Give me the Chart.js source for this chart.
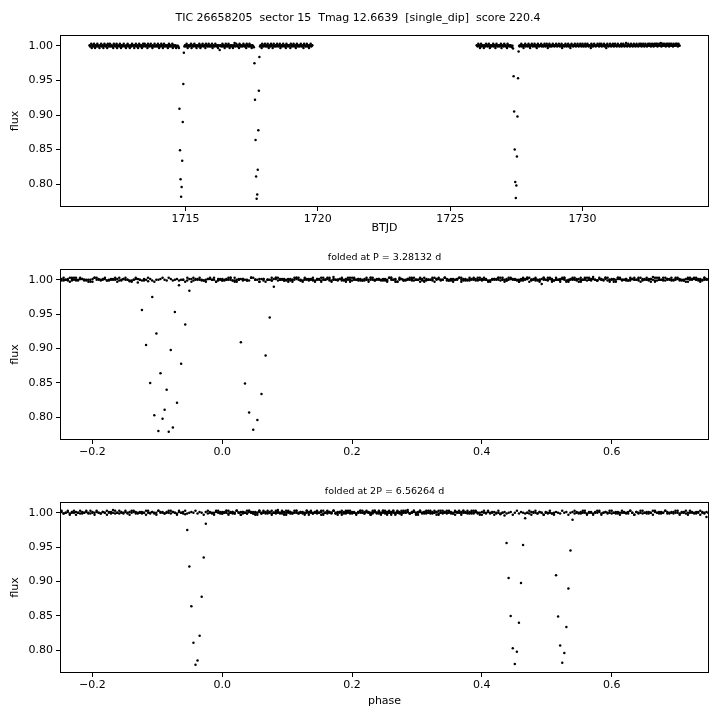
<!DOCTYPE html>
<html>
<head>
<meta charset="utf-8">
<script src="https://cdn.jsdelivr.net/npm/chart.js@4.4.1/dist/chart.umd.min.js"></script>
<style>
  body { margin: 0; background: #fff; }
  #wrap { position: relative; width: 720px; height: 720px; }
  canvas { position: absolute; left: 0; }
</style>
</head>
<body>
<div id="wrap">
  <canvas id="raw" width="720" height="240" style="top:0px"></canvas>
  <canvas id="foldP" width="720" height="233" style="top:240px"></canvas>
  <canvas id="fold2P" width="720" height="247" style="top:473px"></canvas>
</div>
<script>
// light curve, TESS 30-min FFI cadence, two orbits
const orbitStart = [1711.377, 1726.002]; // BTJD of first cadence
const cadence = 30 / 1440;
const period = 3.28132;
const epoch = 1717.96;

const fluxOrbit1 = [
  1.001, 0.999, 1.000, 1.003, 0.997, 1.000, 1.001, 0.999, 1.003, 1.000, 0.997, 1.001, 1.000, 0.999, 1.003, 1.001, 0.999, 1.000, 0.997, 1.001,
  1.000, 1.003, 0.999, 1.000, 1.001, 0.997, 1.000, 1.003, 1.000, 0.999, 1.001, 1.000, 0.997, 1.003, 1.001, 0.999, 1.000, 1.003, 0.999, 1.000,
  1.001, 0.999, 1.000, 0.997, 1.003, 1.000, 1.001, 0.999, 1.000, 1.003, 0.997, 1.000, 1.001, 1.000, 0.999, 1.003, 1.000, 0.997, 1.001, 1.000,
  0.999, 1.001, 1.003, 1.000, 0.999, 1.000, 0.997, 1.001, 1.000, 1.003, 0.999, 1.001, 1.000, 0.997, 1.000, 1.001, 0.999, 1.003, 1.000, 1.001,
  1.000, 0.997, 1.001, 1.000, 1.003, 0.999, 1.000, 1.001, 0.997, 1.000, 1.003, 1.001, 0.999, 1.000, 1.001, 0.997, 1.000, 1.003, 0.999, 1.001,
  1.003, 1.000, 0.999, 1.001, 1.000, 0.997, 1.003, 1.000, 0.999, 1.001, 1.000, 1.003, 0.999, 1.000, 0.997, 1.001, 1.000, 0.999, 1.003, 1.000,
  0.999, 1.000, 1.001, 0.999, 1.003, 1.000, 0.997, 1.001, 1.000, 0.999, 1.003, 1.000, 1.001, 0.997, 1.000, 1.003, 0.999, 1.000, 1.001, 0.999,
  1.000, 1.001, 0.997, 1.000, 1.003, 0.999, 1.001, 1.000, 0.999, 1.000, 1.003, 0.997, 1.001, 1.000, 0.999, 1.001, 1.000, 0.997, 1.000, 0.999,
  1.000, 0.999, 0.997, 0.909, 0.849, 0.807, 0.782, 0.796, 0.834, 0.890, 0.945, 0.990, 0.999, 1.001, 1.000, 0.999, 1.003, 1.000, 0.997, 1.001,
  1.000, 0.999, 1.001, 1.000, 1.003, 0.997, 1.000, 1.001, 0.999, 1.000, 1.003, 1.000, 0.999, 1.001, 0.997, 1.000, 1.001, 1.000, 0.999, 1.003,
  1.000, 0.997, 1.001, 0.999, 1.000, 1.003, 1.000, 0.999, 1.001, 1.000, 0.997, 1.003, 1.000, 1.001, 0.999, 1.000, 1.003, 0.999, 1.000, 1.001,
  0.999, 1.000, 1.003, 0.997, 1.000, 1.001, 0.999, 1.000, 1.003, 1.000, 0.999, 1.001, 1.000, 0.997, 1.001, 1.000, 0.994, 1.000, 1.001, 0.999,
  1.000, 1.003, 0.999, 1.001, 1.000, 0.997, 1.000, 1.003, 0.999, 1.000, 1.001, 0.999, 1.003, 1.000, 0.997, 1.001, 1.000, 0.999, 1.001, 1.000,
  0.997, 1.000, 1.001, 1.004, 0.999, 1.000, 1.003, 1.000, 0.999, 1.001, 1.000, 0.997, 1.003, 1.001, 0.999, 1.000, 1.001, 0.999, 1.000, 1.003,
  1.000, 0.999, 1.001, 1.000, 0.997, 1.003, 1.000, 1.001, 0.999, 1.000, 1.003, 0.999, 1.001, 1.000, 0.997, 1.001, 1.000, 0.999, 0.998, 0.975,
  0.922, 0.864, 0.811, 0.779, 0.785, 0.821, 0.878, 0.935, 0.984, 0.999, 1.001, 1.000, 0.997, 1.003, 1.000, 0.999, 1.001, 1.000, 1.003, 0.999,
  1.000, 1.001, 0.999, 1.003, 1.000, 0.997, 1.001, 1.000, 0.999, 1.003, 1.000, 1.001, 0.997, 1.000, 1.003, 0.999, 1.000, 1.001, 0.999, 1.000,
  1.003, 1.000, 0.999, 1.001, 1.000, 1.003, 0.997, 1.000, 1.001, 0.999, 1.000, 1.003, 1.000, 0.999, 1.001, 1.000, 0.997, 1.003, 1.000, 1.001,
  0.999, 1.000, 1.001, 1.000, 0.997, 1.003, 1.000, 0.999, 1.001, 1.000, 1.003, 0.999, 1.000, 1.001, 0.997, 1.000, 1.003, 1.001, 0.999, 1.000,
  1.001, 0.999, 1.000, 1.003, 1.000, 0.999, 1.001, 1.000, 0.997, 1.003, 1.001, 1.000, 0.999, 1.000, 1.003, 0.999, 1.001, 1.000, 0.997, 1.001,
  1.000, 1.003, 0.999, 1.000, 1.001
];

const fluxOrbit2 = [
  1.001, 1.000, 0.999, 1.003, 1.000, 1.001, 0.997, 1.000, 1.003, 0.999, 1.000, 1.001, 1.000, 0.997, 1.001, 1.000, 0.999, 1.003, 1.000, 1.001,
  0.999, 1.000, 1.003, 1.000, 0.997, 1.001, 1.000, 0.999, 1.001, 1.000, 1.003, 0.999, 1.000, 1.001, 0.997, 1.000, 1.003, 1.000, 0.999, 1.001,
  1.000, 0.999, 1.001, 1.000, 1.003, 0.997, 1.000, 1.001, 1.000, 0.999, 1.003, 1.000, 1.001, 0.999, 1.000, 0.997, 1.003, 1.000, 1.001, 0.999,
  1.000, 1.001, 0.999, 1.000, 0.998, 1.000, 0.996, 0.956, 0.905, 0.850, 0.803, 0.780, 0.798, 0.840, 0.898, 0.953, 0.992, 1.000, 0.999, 1.001,
  1.000, 1.003, 0.999, 1.001, 1.000, 0.997, 1.001, 1.000, 1.003, 0.999, 1.000, 1.001, 1.000, 0.999, 1.003, 1.000, 1.001, 0.997, 1.000, 1.001,
  1.003, 1.000, 0.999, 1.001, 1.000, 1.003, 0.999, 1.000, 1.001, 0.997, 1.000, 1.003, 1.001, 0.999, 1.000, 1.001, 1.000, 1.003, 0.999, 1.000,
  1.001, 0.999, 1.000, 1.003, 1.000, 0.999, 1.001, 1.003, 1.000, 0.997, 1.001, 1.000, 1.003, 0.999, 1.000, 1.001, 0.999, 1.000, 1.003, 1.001,
  1.000, 0.999, 1.001, 1.000, 1.003, 1.001, 0.999, 1.000, 1.001, 1.003, 1.000, 0.999, 1.001, 1.000, 1.003, 0.997, 1.000, 1.001, 1.000, 0.999,
  1.001, 1.003, 1.000, 0.999, 1.001, 1.000, 1.003, 0.999, 1.000, 1.001, 0.997, 1.000, 1.003, 1.001, 1.000, 0.999, 1.001, 1.000, 1.003, 1.000,
  0.999, 1.001, 1.000, 1.003, 1.000, 0.999, 1.001, 1.000, 1.003, 1.001, 0.999, 1.000, 1.003, 1.000, 0.999, 1.001, 1.000, 1.003, 0.999, 1.001,
  1.000, 1.003, 1.001, 0.999, 1.000, 1.001, 1.000, 0.997, 1.003, 1.000, 1.001, 0.999, 1.000, 1.003, 1.001, 1.000, 0.999, 1.001, 1.000, 1.003,
  1.001, 1.000, 0.999, 1.003, 1.000, 1.001, 1.003, 0.999, 1.000, 1.001, 1.000, 1.003, 0.999, 1.001, 1.000, 0.997, 1.001, 1.003, 1.000, 0.999,
  1.000, 1.001, 1.003, 1.000, 0.999, 1.001, 1.000, 1.003, 1.001, 0.999, 1.000, 1.003, 1.000, 1.001, 0.999, 1.000, 1.003, 1.001, 1.000, 0.999,
  1.001, 1.000, 1.003, 0.999, 1.001, 1.000, 1.003, 1.001, 0.999, 1.000, 1.001, 1.004, 1.000, 0.999, 1.001, 1.003, 1.000, 1.001, 0.999, 1.000,
  1.003, 1.000, 1.001, 0.999, 1.000, 1.003, 1.001, 1.000, 0.999, 1.001, 1.003, 1.000, 1.001, 0.999, 1.000, 1.003, 1.001, 1.000, 1.003, 0.999,
  1.001, 1.000, 1.003, 1.001, 0.999, 1.000, 1.003, 1.001, 1.000, 0.999, 1.001, 1.003, 1.000, 1.001, 1.003, 1.000, 0.999, 1.001, 1.003, 1.000,
  1.001, 0.999, 1.003, 1.000, 1.001, 1.003, 1.000, 1.003, 0.999, 1.001, 1.000, 1.003, 1.001, 1.000, 1.004, 0.999, 1.001, 1.003, 1.000, 1.001,
  1.003, 1.000, 1.001, 0.999, 1.003, 1.001, 1.000, 1.003, 1.001, 0.999, 1.003, 1.000, 1.001, 1.003, 1.000, 1.001, 0.999, 1.003, 1.001, 1.000,
  1.001, 1.003, 1.000, 1.003, 1.001, 0.999, 1.003, 1.001, 1.000
];

const fluxTicks = [0.80, 0.85, 0.90, 0.95, 1.00];
const btjdTicks = [1715, 1720, 1725, 1730];
const phaseTicks = [-0.2, 0.0, 0.2, 0.4, 0.6];

const mainTitle = 'TIC 26658205  sector 15  Tmag 12.6639  [single_dip]  score 220.4';
const titleP = 'folded at P = 3.28132 d';
const title2P = 'folded at 2P = 6.56264 d';

// build the time series
var times = [], flux = [];
[fluxOrbit1, fluxOrbit2].forEach(function (orbit, k) {
  orbit.forEach(function (f, i) {
    times.push(orbitStart[k] + i * cadence);
    flux.push(f);
  });
});

function fold(p) {
  return times.map(function (t, i) {
    var ph = ((t - epoch) / p) % 1;
    if (ph < 0) ph += 1;
    if (ph >= 0.75) ph -= 1;
    return { x: ph, y: flux[i] };
  });
}

Chart.defaults.font.family = '"DejaVu Sans", sans-serif';
Chart.defaults.font.size = 11;
Chart.defaults.color = '#000';

// axis frame + panel title
var panelText = {
  id: 'panelText',
  afterDraw: function (chart, args, opts) {
    var ctx = chart.ctx, a = chart.chartArea;
    ctx.save();
    ctx.strokeStyle = '#000';
    ctx.lineWidth = 1;
    ctx.strokeRect(a.left + 0.5, a.top + 0.5, a.right - a.left - 1, a.bottom - a.top - 1);
    ctx.fillStyle = '#000';
    ctx.textAlign = 'center';
    ctx.textBaseline = 'middle';
    ctx.font = opts.size + 'px "DejaVu Sans"';
    var x = opts.x != null ? opts.x : (a.left + a.right) / 2;
    ctx.fillText(opts.text, x, opts.y);
    ctx.restore();
  }
};

function makePanel(id, points, cfg) {
  var ctx = document.getElementById(id).getContext('2d');
  return new Chart(ctx, {
    type: 'scatter',
    data: {
      datasets: [{
        data: points,
        pointRadius: 1.25,
        pointBorderWidth: 0,
        backgroundColor: '#000',
        borderColor: '#000'
      }]
    },
    options: {
      responsive: false,
      animation: false,
      layout: { padding: { top: cfg.padTop, right: 11, left: 0, bottom: 0 } },
      plugins: {
        legend: { display: false },
        tooltip: { enabled: false },
        panelText: { text: cfg.title, y: cfg.titleY, size: cfg.titleSize, x: cfg.titleX }
      },
      scales: {
        x: {
          type: 'linear',
          min: cfg.xMin,
          max: cfg.xMax,
          afterBuildTicks: function (ax) { ax.ticks = cfg.xTicks.map(function (v) { return { value: v }; }); },
          afterFit: function (ax) { ax.height = cfg.xHeight; },
          grid: { drawOnChartArea: false, drawTicks: true, tickLength: 4, color: '#000' },
          border: { display: false },
          ticks: { padding: 2, maxRotation: 0, autoSkip: false, callback: cfg.xFmt },
          title: { display: !!cfg.xTitle, text: cfg.xTitle, padding: { top: 0, bottom: cfg.xTitlePad } }
        },
        y: {
          min: 0.767,
          max: 1.0157,
          afterBuildTicks: function (ax) { ax.ticks = fluxTicks.map(function (v) { return { value: v }; }); },
          afterFit: function (ax) { ax.width = 60; },
          grid: { drawOnChartArea: false, drawTicks: true, tickLength: 4, color: '#000' },
          border: { display: false },
          ticks: { padding: 3, callback: function (v) { return v.toFixed(2); } },
          title: { display: true, text: 'flux', padding: { top: 9, bottom: 0 } }
        }
      }
    },
    plugins: [panelText]
  });
}

function phaseFmt(v) {
  return (v < -1e-9 ? '\u2212' : '') + Math.abs(v).toFixed(1);
}

makePanel('raw', times.map(function (t, i) { return { x: t, y: flux[i] }; }), {
  padTop: 35, title: mainTitle, titleY: 18, titleSize: 11, titleX: 358,
  xMin: 1710.26, xMax: 1734.78, xTicks: btjdTicks, xHeight: 33,
  xFmt: function (v) { return String(v); }, xTitle: 'BTJD', xTitlePad: 5
});

makePanel('foldP', fold(period), {
  padTop: 29, title: titleP, titleY: 18, titleSize: 9.5,
  xMin: -0.25, xMax: 0.75, xTicks: phaseTicks, xHeight: 33,
  xFmt: phaseFmt, xTitle: '', xTitlePad: 0
});

makePanel('fold2P', fold(2 * period), {
  padTop: 29, title: title2P, titleY: 19, titleSize: 9.5,
  xMin: -0.25, xMax: 0.75, xTicks: phaseTicks, xHeight: 47,
  xFmt: phaseFmt, xTitle: 'phase', xTitlePad: 12
});
</script>
</body>
</html>
